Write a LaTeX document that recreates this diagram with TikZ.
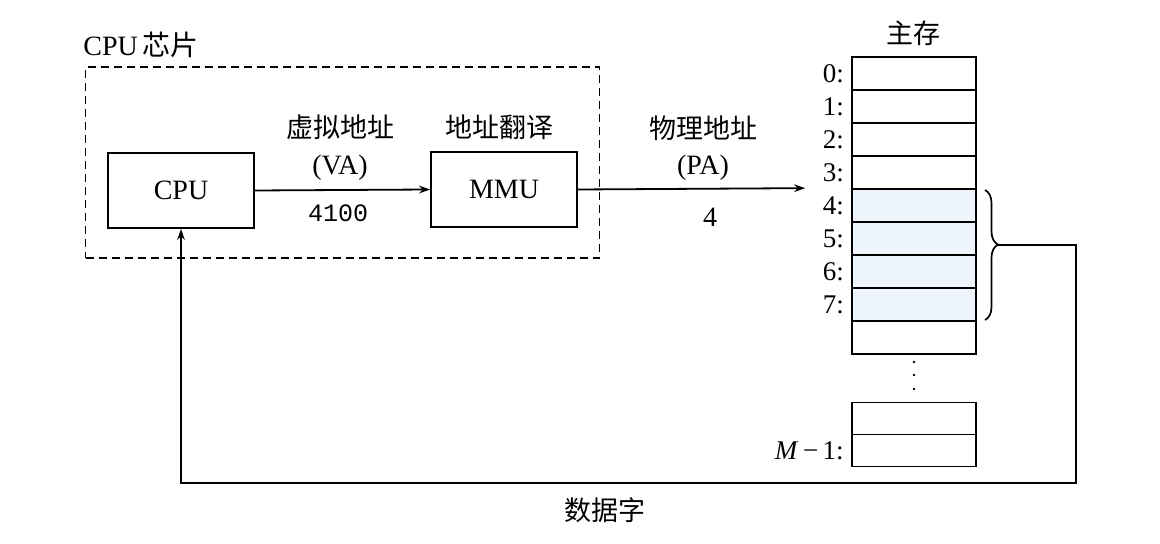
\documentclass[tikz,border=0pt]{standalone}
\usepackage{fontspec}
\setmainfont{Liberation Serif}
\setmonofont{Liberation Mono}
\newfontfamily\cjk{Noto Sans CJK SC}
\usetikzlibrary{arrows.meta,decorations.pathreplacing}
\definecolor{cellblue}{RGB}{238,244,252}
\tikzset{
  lbl/.style={font=\fontsize{14}{16}\selectfont, inner sep=0pt},
  cjklbl/.style={font=\cjk\fontsize{13.5}{16}\selectfont, inner sep=0pt},
  monolbl/.style={font=\ttfamily\fontsize{12.5}{14}\selectfont, inner sep=0pt},
  unitbox/.style={draw, line width=0.9pt, minimum width=73pt, minimum height=37.5pt, inner sep=0pt, font=\fontsize{14}{16}\selectfont},
  cell/.style={draw, line width=0.85pt, minimum width=62pt, minimum height=16.5pt, inner sep=0pt},
  hcell/.style={cell, fill=cellblue},
  addr/.style={font=\fontsize{13.5}{15}\selectfont, inner sep=0pt, anchor=east},
  arr/.style={line width=0.9pt, -{Stealth[length=5.5pt,width=3.8pt]}},
  chip/.style={draw, line width=0.9pt, dash pattern=on 4pt off 2.5pt},
}
\begin{document}
\begin{tikzpicture}[x=0.5pt,y=-0.5pt]
\useasboundingbox (0,0) rectangle (1160,544);
% chip
\node[chip, minimum width=257pt, minimum height=95.5pt, inner sep=0pt] (chip) at (342.5,162.5) {};
\node[lbl, anchor=west] (chiplbl) at (83,45) {CPU\,{\cjk 芯片}};
% units
\node[unitbox] (cpu) at (181,190.5) {CPU};
\node[unitbox] (mmu) at (504,189.5) {MMU};
% labels VA
\node[cjklbl] (va1) at (340,127) {虚拟地址};
\node[lbl] (va2) at (340,168) {(VA)};
\node[monolbl] (va3) at (338,213) {4100};
\node[cjklbl] (at) at (499,127) {地址翻译};
\node[cjklbl] (pa1) at (703,128) {物理地址};
\node[lbl] (pa2) at (703,168) {(PA)};
\node[lbl] (pa3) at (710,217) {4};
% memory
\node[cjklbl] (mem) at (913,33) {主存};
\foreach \i in {0,...,8}{
  \pgfmathsetmacro{\yc}{73.5+33*\i}
  \ifnum\i>3 \ifnum\i<8
    \node[hcell] (m\i) at (914,\yc) {};
  \else
    \node[cell] (m\i) at (914,\yc) {};
  \fi\else
    \node[cell] (m\i) at (914,\yc) {};
  \fi
}
\foreach \i in {0,...,7}{
  \node[addr] (a\i) at ([xshift=-3.5pt]m\i.west) {\i:};
}
\node[cell, minimum height=16pt] (mA) at (914,418.5) {};
\node[cell, minimum height=16pt] (mB) at (914,450.5) {};
\node[addr] (aM) at ([xshift=-3.5pt]mB.west) {\textit{M}\,−\,1:};
\foreach \yy in {362,375,389}{
  \fill (914,\yy) circle (1.4);
}
% brace
\coordinate (bt) at (985,190);
\coordinate (bb) at (985,320);
\draw[line width=0.85pt, decorate, decoration={brace, amplitude=6.5pt, aspect=0.42}] (bt) -- (bb);
\coordinate (tip) at (998,245);
\coordinate (rc) at (1076,483);
% connectors
\draw[arr] (cpu.east) -- (mmu.west);
\draw[arr] (mmu.east) -- ([xshift=-23pt]m4.north west);
\draw[arr] (tip) -| (rc) -| (cpu.south);
\node[cjklbl] (data) at (605,510) {数据字};
\end{tikzpicture}
\end{document}
